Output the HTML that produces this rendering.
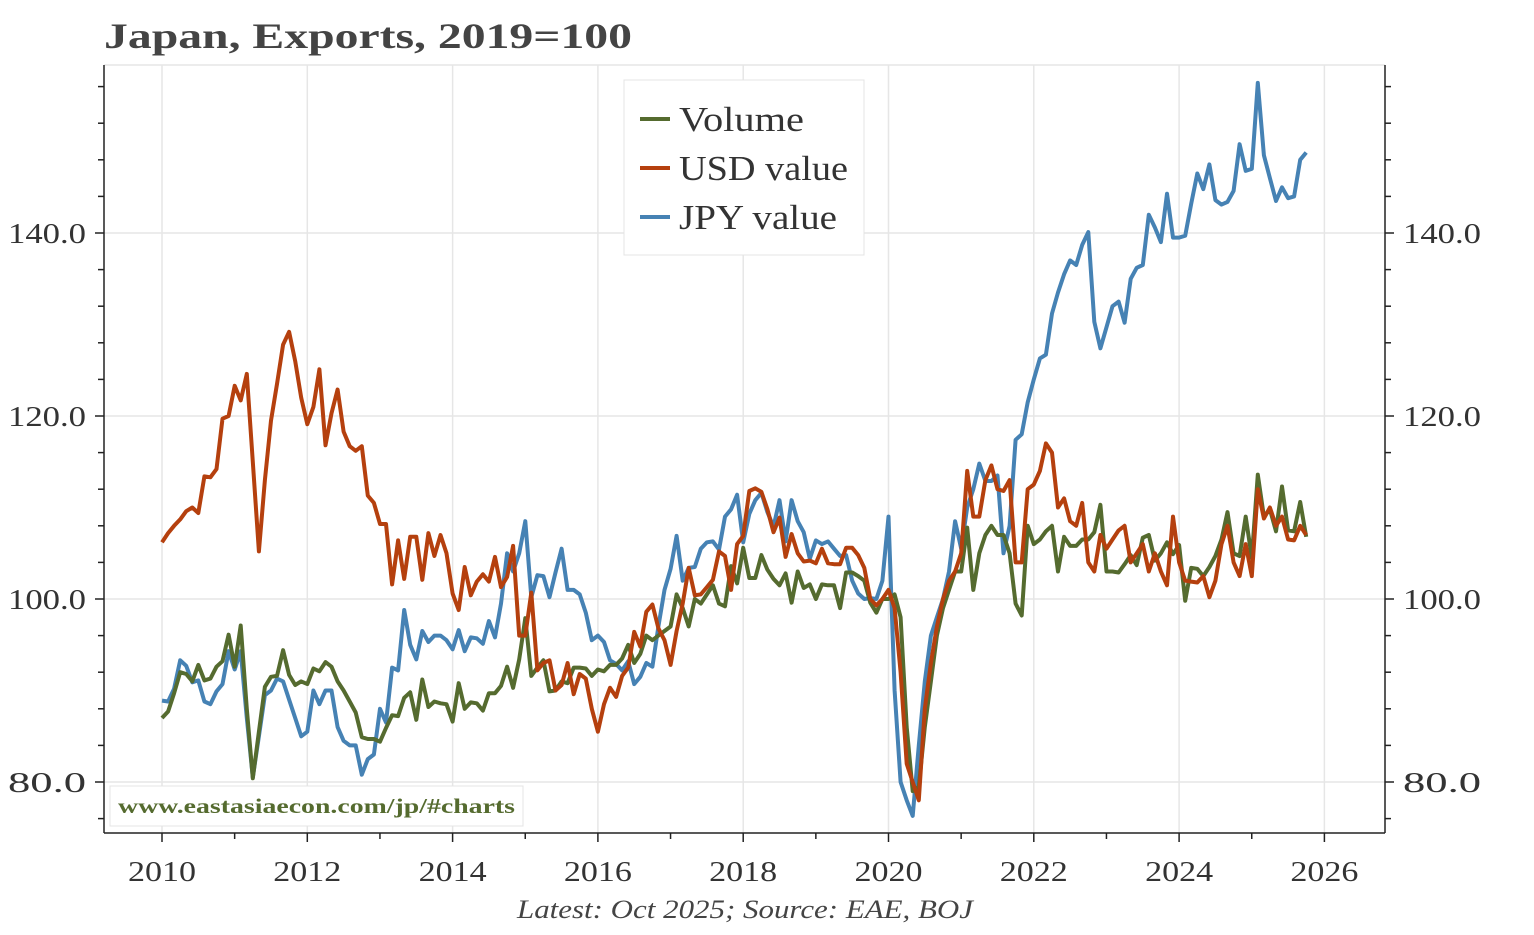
<!DOCTYPE html>
<html><head><meta charset="utf-8">
<style>
body{margin:0;background:#fff;}
svg text{font-family:"Liberation Serif",serif;}
</style></head>
<body>
<svg id="chart" width="1534" height="930" viewBox="0 0 1534 930" xmlns="http://www.w3.org/2000/svg">
<rect width="1534" height="930" fill="#fff"/>
<text x="104" y="48" font-size="36" font-weight="bold" fill="#444" textLength="528" lengthAdjust="spacingAndGlyphs">Japan, Exports, 2019=100</text>
<g id="grid"></g>
<g id="axes"></g>
<g id="series"></g>
<g>
<rect x="624" y="80" width="240" height="175" fill="#fff" stroke="#e4e4e4"/>
<g><line x1="640" y1="119" x2="670" y2="119" stroke="#556b2f" stroke-width="4"/><text x="679" y="131" font-size="35" fill="#333" textLength="125" lengthAdjust="spacingAndGlyphs">Volume</text></g>
<g><line x1="640" y1="168" x2="670" y2="168" stroke="#b5400e" stroke-width="4"/><text x="679" y="180" font-size="35" fill="#333" textLength="169" lengthAdjust="spacingAndGlyphs">USD value</text></g>
<g><line x1="640" y1="217" x2="670" y2="217" stroke="#4682b4" stroke-width="4"/><text x="679" y="229" font-size="35" fill="#333" textLength="158" lengthAdjust="spacingAndGlyphs">JPY value</text></g>
</g>
<g>
<rect x="110" y="786" width="413" height="40" fill="#fff" stroke="#e4e4e4"/>
<text x="118" y="813" font-size="21" font-weight="bold" fill="#556b2f" textLength="397" lengthAdjust="spacingAndGlyphs">www.eastasiaecon.com/jp/#charts</text>
</g>
<text x="517" y="918" font-size="26" font-style="italic" fill="#444" textLength="456" lengthAdjust="spacingAndGlyphs">Latest: Oct 2025; Source: EAE, BOJ</text>
</svg>
<script>
const startYear = 2010;
const volume = [
87,87.7,89.7,92,91.8,91,92.8,91.1,91.3,92.6,93.2,96.1,
92.6,97.1,88,80.4,85.5,90.4,91.5,91.6,94.4,91.7,90.6,91,
90.7,92.4,92.1,93.1,92.6,91,90,88.8,87.6,84.9,84.7,84.7,
84.4,85.9,87.3,87.2,89.2,89.8,86.8,91.2,88.2,88.8,88.6,88.5,
86.6,90.8,88,88.7,88.6,87.8,89.7,89.7,90.5,92.6,90.3,93.4,
97.9,91.6,92.5,93.3,89.9,90,91,90.8,92.5,92.5,92.4,91.6,
92.3,92.1,92.8,92.8,93.5,95,93,94,96,95.5,96,96.5,
97,100.5,99,97,100,99.5,100.5,101.5,99.5,99.2,103.6,101.7,
105.6,102.3,102.3,104.8,103.2,102.2,101.5,102.8,99.6,103,101.2,101.6,
100,101.6,101.5,101.5,99,102.9,102.9,102.5,102,99.6,98.5,100,
100,100.5,98,86,79,79.5,86,91,96,99,101,103,
103,107.8,101,105,107,108,107,107,105,99.5,98.2,108,
106,106.5,107.4,108,103,106.8,105.8,105.8,106.5,106.5,107.3,110.3,
103,103,102.9,103.8,104.8,103.7,106.7,107,104.2,105,106.2,104.9,
105.9,99.8,103.4,103.3,102.5,103.5,104.7,106.5,109.5,105,104.7,109,
104.5,113.6,109,109.8,107.4,112.3,107.5,107.4,110.6,106.8];
const usd = [
106.2,107.2,108,108.7,109.6,110,109.4,113.4,113.3,114.2,119.7,120,
123.3,121.7,124.6,115,105.2,113,119.5,123.5,127.8,129.2,126,122,
119.1,121,125.1,116.8,120.3,122.9,118.3,116.7,116.2,116.7,111.3,110.5,
108.2,108.2,101.6,106.4,102.2,106.8,106.8,102.1,107.2,104.7,107,105,
100.6,98.8,103.5,100.4,101.9,102.7,101.9,104.6,101.3,102.4,105.8,96,
96,100.7,92.2,93,93.3,90,90.6,93,89.6,91.8,91.3,88,
85.5,88.5,90.3,89.3,91.6,92.5,96.4,94.8,98.6,99.4,96.8,95.5,
92.8,96.5,99.5,103.4,100.4,100.5,101.3,102.1,105.2,104.7,101,106,
106.9,111.8,112.1,111.7,109.8,107.3,108.9,104.6,107.1,105,104.1,104.2,
103.9,105.5,103.9,103.8,103.8,105.6,105.6,104.8,103.4,100,99.3,100,
101,99,92,82,80,78,88,93,97,100,102,103,
105,114,109,109,113,114.6,112,111.8,113,104,104,112,
112.5,114,117,116,110,111,108.5,108,110.5,104,103,107,
105.5,106.5,107.5,108,104,105,106,103,105,103,101.5,109,
104,102,101.9,101.8,102.5,100.2,102,106,108,104,102.5,106,
102.5,112,108.8,110,108,109,106.5,106.4,108,107];
const jpy = [
88.9,88.8,90.2,93.3,92.7,90.9,91.1,88.8,88.5,89.9,90.7,94.3,
92.3,94.3,87,80.5,85,89.5,90,91.3,91,89,87,85,
85.5,90,88.5,90,90,86,84.5,84,84,80.8,82.5,83,
88,86.5,92.5,92.2,98.8,95,93.4,96.5,95.3,96,96,95.5,
94.5,96.6,94.3,95.8,95.7,95.1,97.6,95.8,99.5,105,103,105,
108.5,100.2,102.6,102.5,100.2,102.9,105.5,101,101,100.5,98.5,95.5,
96,95.3,93.3,92.9,92.2,93.2,90.7,91.5,93,92.6,97,101,
103.3,106.9,102,103.4,103.5,105.5,106.2,106.3,105.4,109,109.8,111.4,
106.2,109.3,110.8,111.6,109.5,107.9,110.8,106.3,110.8,108.5,107.3,104.4,
106.4,106,106.3,105.5,104.7,104.8,102,100.6,100,100.1,100,102,
109,90,80,78,76.3,84,91,96,98,100,103,108.5,
105.5,110,112,114.8,112.9,112.9,113.5,105,108,117.4,118,121.5,
124,126.3,126.7,131.2,133.5,135.5,137,136.5,138.7,140.1,130.3,127.4,
129.7,132,132.5,130.2,135,136.2,136.5,142,140.6,139,144.3,139.5,
139.5,139.7,143.2,146.5,144.8,147.5,143.6,143.1,143.4,144.6,149.7,146.8,
147,156.4,148.5,146,143.5,145,143.8,144,148,148.8];
const yTicks = [80, 100, 120, 140];
const xTickYears = [2010, 2012, 2014, 2016, 2018, 2020, 2022, 2024, 2026];

const NS = "http://www.w3.org/2000/svg";
const L = 104, R = 1385, T = 65, B = 833;
const xScale = t => 162 + (t - 2010) * 72.65;
const yScale = v => 599 - (v - 100) * 9.15;
function mk(tag, attrs, parent) {
  const e = document.createElementNS(NS, tag);
  for (const k in attrs) e.setAttribute(k, attrs[k]);
  parent.appendChild(e);
  return e;
}
const grid = document.getElementById('grid');
const axes = document.getElementById('axes');
const series = document.getElementById('series');

for (let yr = 2010; yr <= 2026; yr += 2) {
  const g = mk('line', {x1: xScale(yr), x2: xScale(yr), y1: T, y2: B, stroke: '#e6e6e6', 'stroke-width': 1.5}, grid);
  
  
}
for (const v of yTicks) {
  const g = mk('line', {x1: L, x2: R, y1: yScale(v), y2: yScale(v), stroke: '#e6e6e6', 'stroke-width': 1.5}, grid);
  
  
}
mk('line', {x1: L, x2: R, y1: T, y2: T, stroke: '#e6e6e6', 'stroke-width': 1.5}, grid);

const axl = mk('line', {x1: L, x2: L, y1: T, y2: B, stroke: '#222', 'stroke-width': 1.5}, axes);


const axr = mk('line', {x1: R, x2: R, y1: T, y2: B, stroke: '#222', 'stroke-width': 1.5}, axes);


const axb = mk('line', {x1: L, x2: R, y1: B, y2: B, stroke: '#222', 'stroke-width': 1.5}, axes);



for (let v = 76; v <= 156; v += 4) {
  const y = yScale(v);
  const major = yTicks.includes(v);
  const len = major ? 9 : 6;
  mk('line', {x1: L - len, x2: L, y1: y, y2: y, stroke: '#222', 'stroke-width': 1.5}, axes);
  mk('line', {x1: R, x2: R + len, y1: y, y2: y, stroke: '#222', 'stroke-width': 1.5}, axes);
}
for (const v of yTicks) {
  const t1 = mk('text', {x: 8, y: yScale(v) + 10, 'font-size': 28, fill: '#333', textLength: 78, lengthAdjust: 'spacingAndGlyphs'}, axes);
  t1.textContent = v.toFixed(1);
  
  
  const t2 = mk('text', {x: 1403, y: yScale(v) + 10, 'font-size': 28, fill: '#333', textLength: 78, lengthAdjust: 'spacingAndGlyphs'}, axes);
  t2.textContent = v.toFixed(1);
  
  
}
for (let yr = 2010; yr <= 2026; yr++) {
  const x = xScale(yr);
  const major = xTickYears.includes(yr);
  mk('line', {x1: x, x2: x, y1: B, y2: B + (major ? 9 : 6), stroke: '#222', 'stroke-width': 1.5}, axes);
}
for (const yr of xTickYears) {
  const t = mk('text', {x: xScale(yr) - 34, y: 881, 'font-size': 28, fill: '#333', textLength: 68, lengthAdjust: 'spacingAndGlyphs'}, axes);
  t.textContent = String(yr);
  
  
}

function drawSeries(arr, color, name) {
  const pts = arr.map((v, i) => xScale(startYear + i / 12).toFixed(1) + ',' + yScale(v).toFixed(1)).join(' ');
  const p = mk('polyline', {points: pts, fill: 'none', stroke: color, 'stroke-width': 4, 'stroke-linejoin': 'round'}, series);
  
  
}
drawSeries(jpy, '#4682b4', 'jpy-value-line');
drawSeries(volume, '#556b2f', 'volume-line');
drawSeries(usd, '#b5400e', 'usd-value-line');
</script>
</body></html>
